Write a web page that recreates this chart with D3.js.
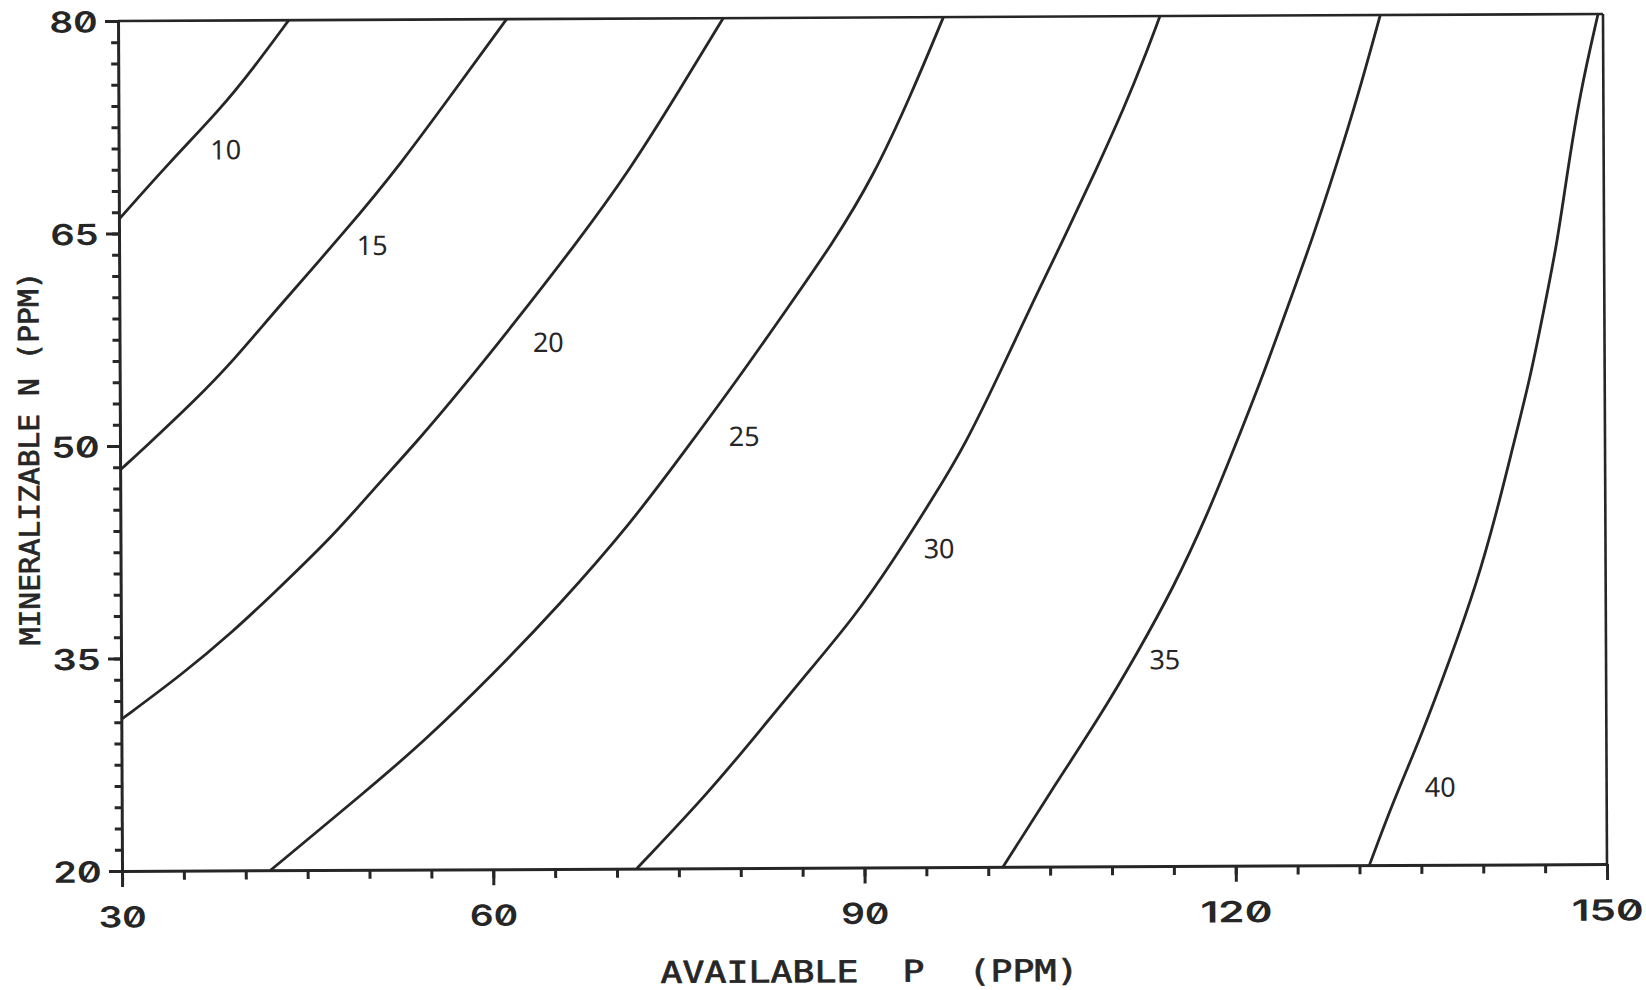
<!DOCTYPE html>
<html>
<head>
<meta charset="utf-8">
<script src="https://cdn.jsdelivr.net/npm/d3@7"></script>
<style>
  html, body { margin: 0; padding: 0; background: #ffffff; }
  svg { display: block; }
  .digits {
    font-family: Inter, "DejaVu Sans", sans-serif;
    font-weight: 600;
    font-variant-numeric: slashed-zero;
    font-feature-settings: "zero" 1;
    fill: #262626;
  }
  .title {
    font-family: "DejaVu Sans Mono", "Liberation Mono", monospace;
    fill: #262626;
    stroke: #262626;
    stroke-width: 0.7;
    white-space: pre;
  }
  .clabel { font-family: "Noto Sans", "Open Sans", sans-serif; fill: #262626; }
</style>
</head>
<body>
<svg id="chart" width="1646" height="990"></svg>
<script>
// Yield contours (levels 10..40) over available P (x) and mineralizable N (y), both in ppm.
const contourLevels = [10, 15, 20, 25, 30, 35, 40];

// Each contour as [P, N] pairs, traced from the low-P end to the high-P end.
const contour10 = [[30, 66.0], [34.1, 70.0], [38.2, 73.7], [40.9, 76.6], [43.8, 80]];
const contour15 = [[30, 48.3], [31.9, 49.8], [36.2, 53.3], [39.2, 56.0], [42.7, 59.6],
                   [48.4, 65.2], [52.7, 69.7], [57.6, 75.5], [61.4, 80]];
const contour20 = [[30, 30.7], [35.0, 33.9], [39.1, 36.9], [42.3, 39.5], [47.2, 43.6],
                   [50.2, 46.6], [54.4, 50.6], [57.5, 53.8], [61.6, 58.2], [67.0, 64.2],
                   [71.3, 69.3], [75.4, 75.0], [78.9, 80]];
const contour25 = [[42.0, 20], [49.8, 25.6], [54.4, 29.0], [60.1, 33.8], [65.3, 38.5],
                   [71.2, 44.3], [76.1, 50.0], [80.1, 54.7], [83.9, 59.4], [87.7, 64.1],
                   [91.0, 68.8], [94.1, 74.6], [96.7, 80]];
const contour30 = [[71.6, 20], [77.5, 25.4], [81.6, 29.7], [85.4, 33.7], [89.2, 37.6],
                   [92.4, 41.6], [95.7, 46.1], [98.3, 49.8], [101.2, 55.0], [103.9, 60.0],
                   [106.5, 64.6], [109.0, 69.2], [111.3, 73.6], [112.9, 77.0], [114.2, 80]];
const contour35 = [[101.2, 20], [105.0, 25.2], [109.1, 30.6], [112.1, 35.0], [115.1, 39.7],
                   [117.8, 44.7], [120.0, 49.4], [122.3, 54.4], [124.4, 59.4], [126.5, 64.4],
                   [128.4, 69.4], [130.2, 74.4], [132.0, 80]];
const contour40 = [[130.8, 20], [132.8, 24.6], [134.9, 28.8], [137.4, 34.5], [139.6, 39.9],
                   [141.2, 44.8], [142.5, 49.3], [144.0, 54.4], [145.1, 59.1], [146.2, 63.8],
                   [147.0, 68.5], [148.1, 74.4], [149.6, 80]];
const contourPaths = [contour10, contour15, contour20, contour25, contour30, contour35, contour40];

// Where each level's number is written (P, N of the text's start / baseline).
const labelP = [37.4, 49.2, 63.4, 79.2, 94.9, 113.1, 135.3];
const labelN = [70.2, 63.4, 56.5, 49.8, 41.8, 33.9, 24.8];

// Axes
const xTickLabels = [30, 60, 90, 120, 150];
const yTickLabels = [20, 35, 50, 65, 80];
const xMinorStep = 5;
const yMinorStep = 1.5;
const xTitle = "AVAILABLE  P  (PPM)";
const yTitle = "MINERALIZABLE N (PPM)";

const ink = "#262626";
const svg = d3.select("#chart");
svg.append("rect").attr("width", 1646).attr("height", 990).attr("fill", "#ffffff");

const x = d3.scaleLinear().domain([30, 150]).range([120, 1605]);
const y = d3.scaleLinear().domain([20, 80]).range([867.5, 17.5]);

// the plotted sheet sits very slightly turned
const g = svg.append("g").attr("transform", "rotate(-0.27 862.5 442.5)");

const xMinor = d3.range(30, 150 + 1e-9, xMinorStep);
const yMinor = d3.range(20, 80 + 1e-9, yMinorStep);

function styleAxis(sel, width) {
  sel.selectAll("path.domain").attr("stroke", ink).attr("stroke-width", width);
  sel.selectAll(".tick line").attr("stroke", ink).attr("stroke-width", 3);
}

// minor ticks
g.append("g")
  .attr("transform", `translate(0,${y(20)})`)
  .call(d3.axisBottom(x).tickValues(xMinor).tickSize(9).tickSizeOuter(0).tickFormat(""))
  .call(s => s.select(".domain").remove())
  .call(s => styleAxis(s, 3));
g.append("g")
  .attr("transform", `translate(${x(30)},0)`)
  .call(d3.axisLeft(y).tickValues(yMinor).tickSize(7).tickSizeOuter(0).tickFormat(""))
  .call(s => s.select(".domain").remove())
  .call(s => styleAxis(s, 3));

// major ticks and labels
const charAdvance = 24;
const xAxisG = g.append("g")
  .attr("transform", `translate(0,${y(20)})`)
  .call(d3.axisBottom(x).tickValues(xTickLabels).tickSize(16).tickSizeOuter(0).tickFormat(d3.format("d")))
  .call(s => styleAxis(s, 3));
xAxisG.selectAll(".tick text")
  .attr("class", "digits")
  .attr("y", 56.5).attr("dy", 0)
  .attr("font-size", 29)
  .attr("fill", ink)
  .attr("textLength", d => String(d).length * charAdvance)
  .attr("lengthAdjust", "spacingAndGlyphs");

const yAxisG = g.append("g")
  .attr("transform", `translate(${x(30)},0)`)
  .call(d3.axisLeft(y).tickValues(yTickLabels).tickSize(13).tickSizeOuter(0).tickFormat(d3.format("d")))
  .call(s => styleAxis(s, 3));
yAxisG.selectAll(".tick text")
  .attr("class", "digits")
  .attr("x", -20.5).attr("dy", 10.8)
  .attr("font-size", 29)
  .attr("fill", ink)
  .attr("textLength", d => String(d).length * charAdvance)
  .attr("lengthAdjust", "spacingAndGlyphs");
svg.selectAll(".tick text").attr("font-family", null);

// top and right frame lines
g.append("line")
  .attr("x1", x(30)).attr("x2", x(150)).attr("y1", y(80)).attr("y2", y(80))
  .attr("stroke", ink).attr("stroke-width", 2.6);
g.append("line")
  .attr("x1", x(150)).attr("x2", x(150)).attr("y1", y(80)).attr("y2", y(20))
  .attr("stroke", ink).attr("stroke-width", 2.6);

// contour lines
const line = d3.line()
  .x(d => x(d[0]))
  .y(d => y(d[1]))
  .curve(d3.curveBasis);

g.append("g").selectAll("path")
  .data(contourPaths)
  .join("path")
  .attr("d", line)
  .attr("fill", "none")
  .attr("stroke", ink)
  .attr("stroke-width", 2.8)
  .attr("stroke-linejoin", "round");

// level labels
g.append("g").selectAll("text")
  .data(contourLevels)
  .join("text")
  .attr("class", "clabel")
  .attr("x", (d, i) => x(labelP[i]))
  .attr("y", (d, i) => y(labelN[i]))
  .attr("font-size", 27)
  .text(d => d);

// axis titles
g.append("text")
  .attr("class", "title")
  .attr("x", 867).attr("y", 982)
  .attr("text-anchor", "middle")
  .attr("font-size", 30)
  .attr("textLength", xTitle.length * 22)
  .attr("lengthAdjust", "spacingAndGlyphs")
  .text(xTitle);

g.append("text")
  .attr("class", "title")
  .attr("transform", `translate(39,${(y(20) + y(80)) / 2 + 12}) rotate(-90)`)
  .attr("text-anchor", "middle")
  .attr("font-size", 28)
  .attr("textLength", yTitle.length * 17.8)
  .attr("lengthAdjust", "spacingAndGlyphs")
  .text(yTitle);
</script>
</body>
</html>
